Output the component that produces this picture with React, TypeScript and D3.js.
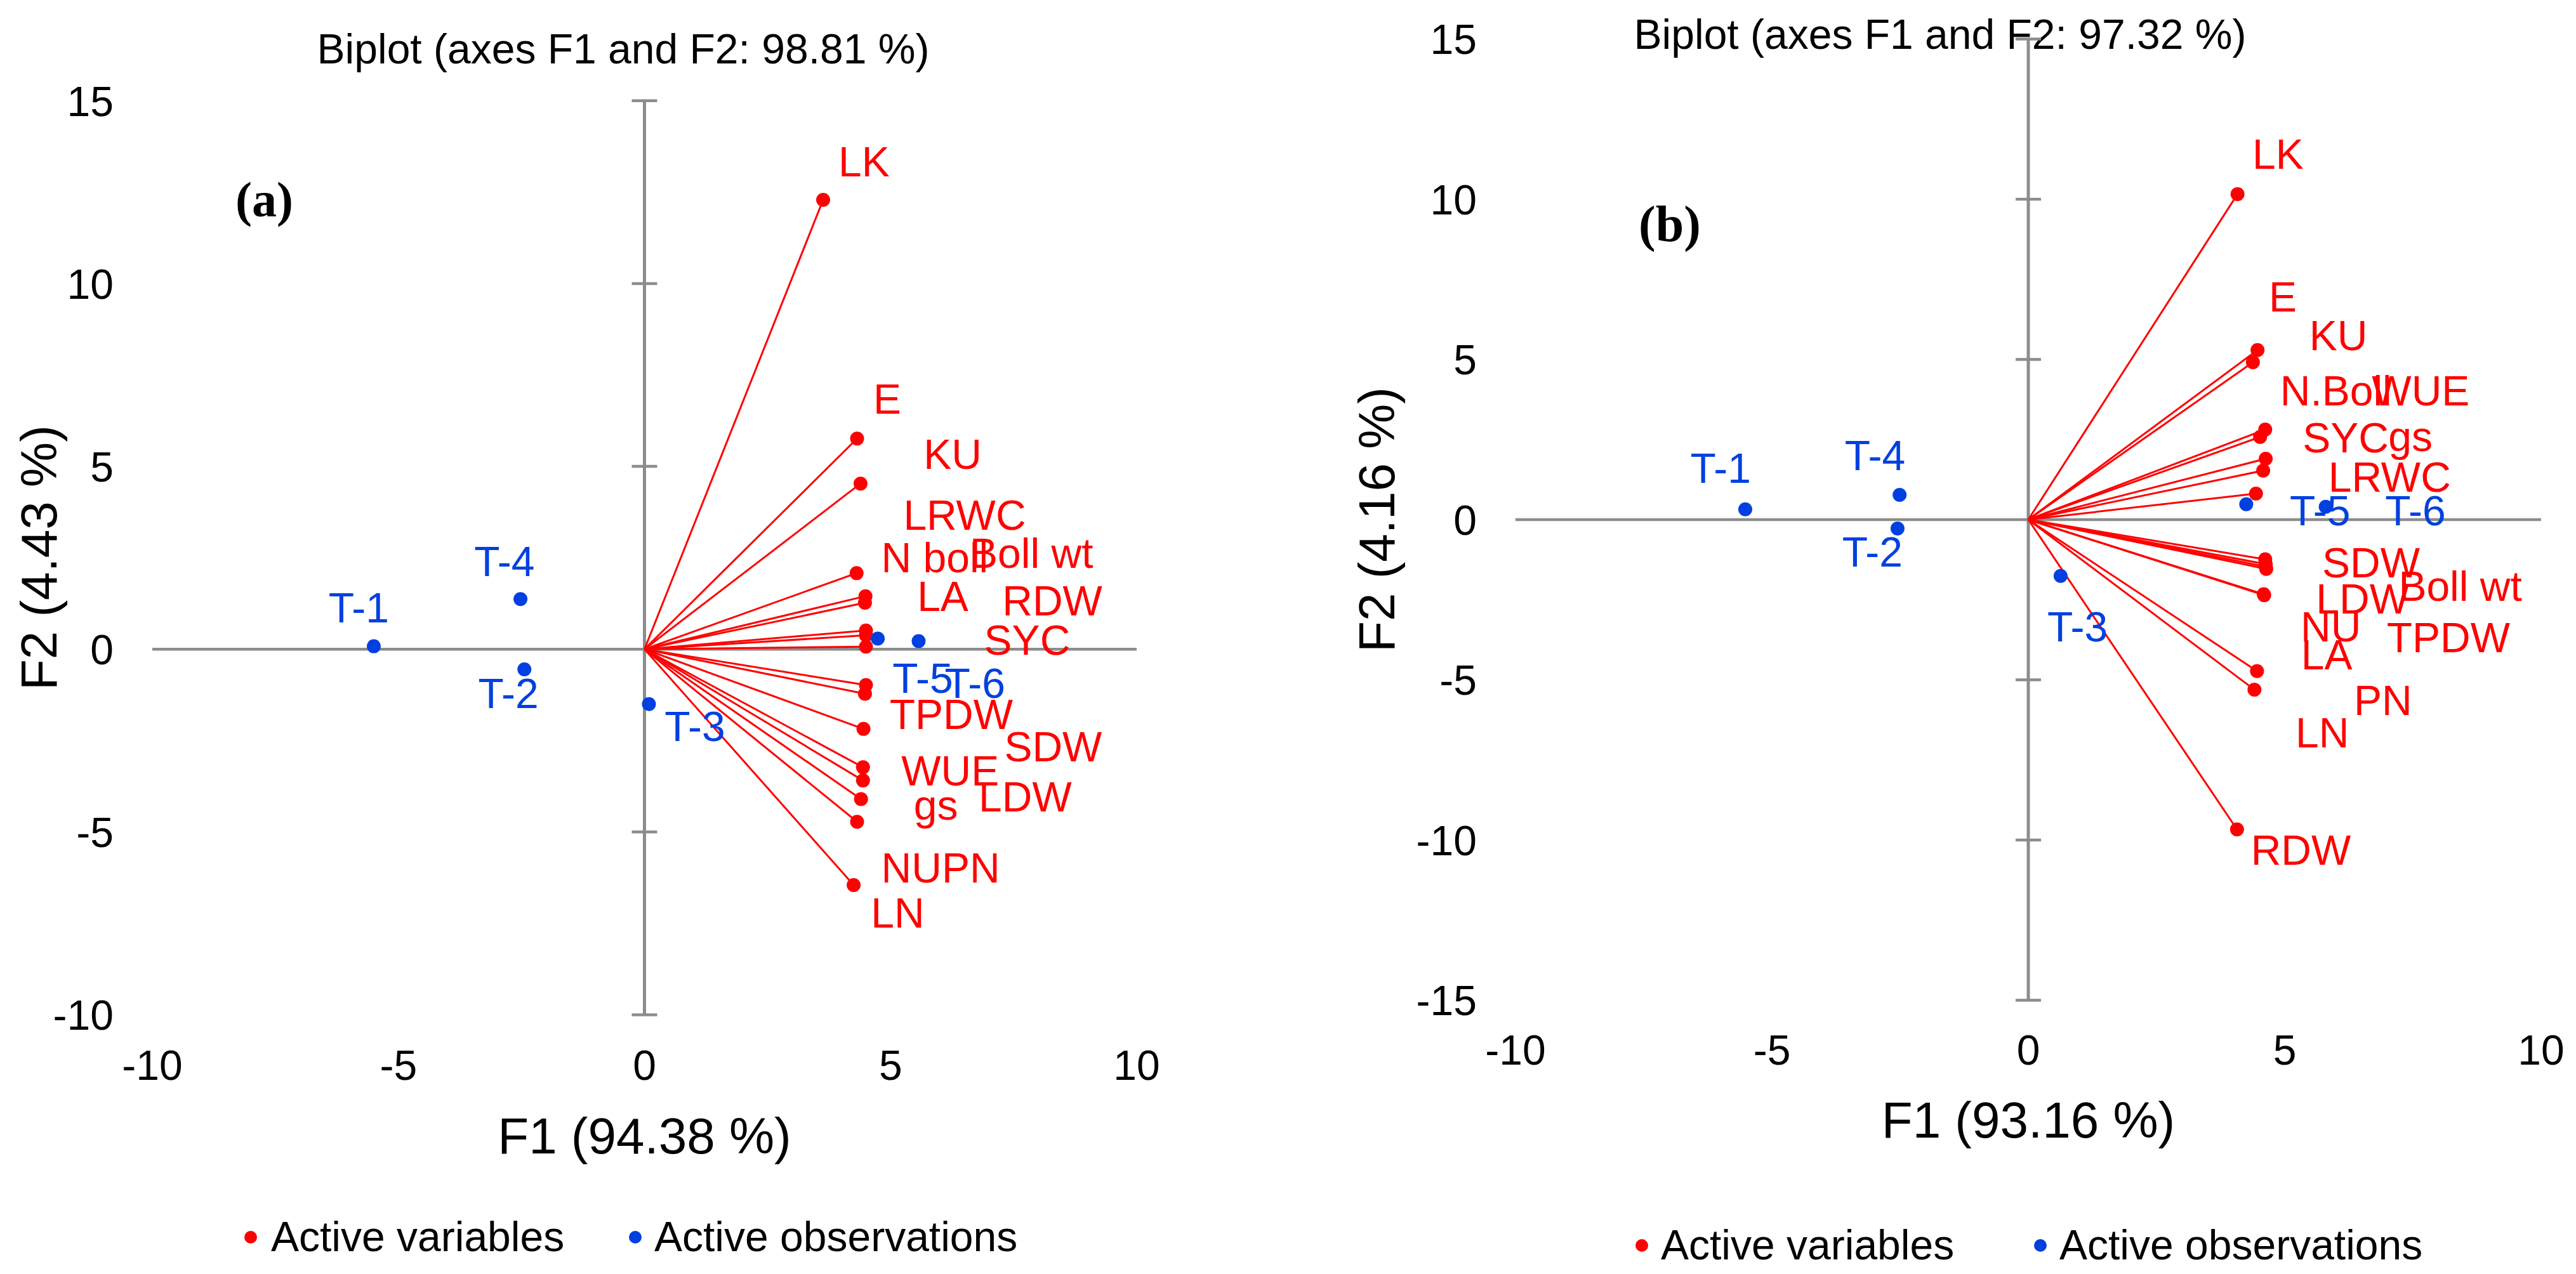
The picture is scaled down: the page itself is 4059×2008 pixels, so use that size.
import React, { useRef, useEffect } from 'react';
import * as d3 from 'd3';

// ---------- data ----------
const titles = ['Biplot (axes F1 and F2: 98.81 %)', 'Biplot (axes F1 and F2: 97.32 %)'];
const xTitles = ['F1 (94.38 %)', 'F1 (93.16 %)'];
const yTitles = ['F2 (4.43 %)', 'F2 (4.16 %)'];
const tags = ['(a)', '(b)'];
const legendNames = ['Active variables', 'Active observations'];

const xTicks = [-10, -5, 0, 5, 10];
const yTicksA = [-10, -5, 0, 5, 10, 15];
const yTicksB = [-15, -10, -5, 0, 5, 10, 15];

const obsNames = ['T-1', 'T-2', 'T-3', 'T-4', 'T-5', 'T-6'];

// panel (a)
const varNamesA = ['LK', 'E', 'KU', 'LRWC', 'N boll', 'Boll wt', 'LA', 'RDW', 'SYC', 'TPDW', 'SDW', 'WUE', 'LDW', 'gs', 'NU', 'PN', 'LN'];
const varF1A = [3.63, 4.32, 4.39, 4.31, 4.49, 4.48, 4.5, 4.5, 4.5, 4.5, 4.48, 4.45, 4.44, 4.44, 4.4, 4.32, 4.25];
const varF2A = [12.29, 5.76, 4.53, 2.08, 1.45, 1.27, 0.51, 0.38, 0.07, -0.98, -1.22, -2.18, -3.23, -3.59, -4.1, -4.72, -6.45];
const obsF1A = [-5.5, -2.44, 0.09, -2.52, 4.74, 5.57];
const obsF2A = [0.08, -0.55, -1.5, 1.37, 0.29, 0.22];

// panel (b)
const varNamesB = ['LK', 'E', 'KU', 'N.Boll', 'WUE', 'SYC', 'gs', 'LRWC', 'SDW', 'Boll wt', 'LDW', 'PN', 'TPDW', 'NU', 'LA', 'LN', 'RDW'];
const varF1B = [4.08, 4.47, 4.38, 4.62, 4.52, 4.63, 4.58, 4.44, 4.62, 4.63, 4.64, 4.63, 4.59, 4.6, 4.46, 4.41, 4.07];
const varF2B = [10.16, 5.29, 4.91, 2.81, 2.58, 1.9, 1.53, 0.81, -1.24, -1.39, -1.54, -1.47, -2.33, -2.36, -4.73, -5.31, -9.67];
const obsF1B = [-5.52, -2.55, 0.63, -2.51, 4.25, 5.8];
const obsF2B = [0.32, -0.28, -1.76, 0.77, 0.48, 0.4];

// ---------- label placement (in axis units, left edge / middle of text) ----------
const varLabelSpotsA: [number, number][] = [
  [3.94, 13.34], [4.65, 6.85], [5.67, 5.34], [5.26, 3.68], [4.81, 2.52], [6.61, 2.63],
  [5.54, 1.45], [7.27, 1.34], [6.9, 0.26], [4.98, -1.77], [7.31, -2.66], [5.22, -3.32],
  [6.79, -4.03], [5.47, -4.26], [4.81, -5.97], [6.04, -5.97], [4.6, -7.21],
];
const obsLabelSpotsA: [number, number][] = [
  [-6.42, 1.14], [-3.38, -1.19], [0.41, -2.1], [-3.46, 2.41], [5.04, -0.78], [6.1, -0.92],
];
const varLabelSpotsB: [number, number][] = [
  [4.37, 11.42], [4.69, 6.96], [5.48, 5.76], [4.91, 4.04], [6.7, 4.04], [5.35, 2.57],
  [7.02, 2.6], [5.85, 1.34], [5.73, -1.34], [7.22, -2.06], [5.61, -2.47], [6.35, -5.63],
  [6.99, -3.66], [5.31, -3.34], [5.32, -4.21], [5.21, -6.64], [4.34, -10.3],
];
const obsLabelSpotsB: [number, number][] = [
  [-6.59, 1.61], [-3.63, -1.0], [0.37, -3.33], [-3.58, 2.02], [5.1, 0.3], [6.96, 0.3],
];

const RED = '#ff0000';
const BLUE = '#0040e0';
const GREY = '#8c8c8c';
const FONT = '"Liberation Sans", Arial, sans-serif';

type Panel = {
  idx: number;
  varNames: string[]; varF1: number[]; varF2: number[];
  obsF1: number[]; obsF2: number[];
  varSpots: [number, number][]; obsSpots: [number, number][];
  yTicks: number[];
  xRange: [number, number]; yRange: [number, number];
  titleX: number; titleY: number;
  tagX: number; tagY: number; tagSize: number;
  xTitleY: number; yTitleX: number;
  legendY: number; legendDotX: [number, number]; legendTextX: [number, number];
};

const panels: Panel[] = [
  {
    idx: 0, varNames: varNamesA, varF1: varF1A, varF2: varF2A, obsF1: obsF1A, obsF2: obsF2A,
    varSpots: varLabelSpotsA, obsSpots: obsLabelSpotsA, yTicks: yTicksA,
    xRange: [240, 1791], yRange: [1599.5, 158.8],
    titleX: 982, titleY: 100, tagX: 371, tagY: 341, tagSize: 78,
    xTitleY: 1818, yTitleX: 89,
    legendY: 1972, legendDotX: [395, 1001], legendTextX: [427, 1031],
  },
  {
    idx: 1, varNames: varNamesB, varF1: varF1B, varF2: varF2B, obsF1: obsF1B, obsF2: obsF2B,
    varSpots: varLabelSpotsB, obsSpots: obsLabelSpotsB, yTicks: yTicksB,
    xRange: [2388, 4004], yRange: [1576.4, 61.5],
    titleX: 3057, titleY: 77, tagX: 2582, tagY: 380, tagSize: 80,
    xTitleY: 1793, yTitleX: 2197,
    legendY: 1985, legendDotX: [2587, 3215], legendTextX: [2617, 3245],
  },
];

const W = 4059;
const H = 2008;
const FS = 66;

const App: React.FC = () => {
  const svgRef = useRef<SVGSVGElement>(null);

  useEffect(() => {
    if (!svgRef.current) return;
    const svg = d3.select(svgRef.current);
    svg.selectAll('*').remove();

    panels.forEach(p => {
      const yDomain = d3.extent(p.yTicks) as [number, number];
      const x = d3.scaleLinear().domain([-10, 10]).range(p.xRange);
      const y = d3.scaleLinear().domain(yDomain).range(p.yRange);
      const g = svg.append('g').attr('font-family', FONT);

      // title
      g.append('text')
        .attr('x', p.titleX).attr('y', p.titleY)
        .attr('text-anchor', 'middle').attr('font-size', FS)
        .text(titles[p.idx]);

      // axes crossing at the origin
      g.append('line')
        .attr('x1', x(-10)).attr('x2', x(10)).attr('y1', y(0)).attr('y2', y(0))
        .attr('stroke', GREY).attr('stroke-width', 4.5);
      g.append('line')
        .attr('x1', x(0)).attr('x2', x(0)).attr('y1', y(yDomain[0])).attr('y2', y(yDomain[1]))
        .attr('stroke', GREY).attr('stroke-width', 5);
      g.selectAll('line.ytick')
        .data(p.yTicks.filter(t => t !== 0))
        .enter().append('line')
        .attr('class', 'ytick')
        .attr('x1', x(0) - 20).attr('x2', x(0) + 20)
        .attr('y1', d => y(d)).attr('y2', d => y(d))
        .attr('stroke', GREY).attr('stroke-width', 4.5);

      // tick labels
      g.selectAll('text.ylab')
        .data(p.yTicks)
        .enter().append('text')
        .attr('class', 'ylab')
        .attr('x', p.xRange[0] - 61).attr('y', d => y(d) + FS * 0.36)
        .attr('text-anchor', 'end').attr('font-size', FS)
        .text(d => String(d));
      g.selectAll('text.xlab')
        .data(xTicks)
        .enter().append('text')
        .attr('class', 'xlab')
        .attr('x', d => x(d)).attr('y', p.yRange[0] + 102)
        .attr('text-anchor', 'middle').attr('font-size', FS)
        .text(d => String(d));

      // axis titles
      g.append('text')
        .attr('x', x(0)).attr('y', p.xTitleY)
        .attr('text-anchor', 'middle').attr('font-size', 80)
        .text(xTitles[p.idx]);
      const yMid = (p.yRange[0] + p.yRange[1]) / 2;
      g.append('text')
        .attr('transform', `translate(${p.yTitleX},${yMid}) rotate(-90)`)
        .attr('text-anchor', 'middle').attr('font-size', 80)
        .text(yTitles[p.idx]);

      // panel tag
      g.append('text')
        .attr('x', p.tagX).attr('y', p.tagY)
        .attr('font-family', '"Liberation Serif", "Times New Roman", serif')
        .attr('font-weight', 'bold').attr('font-size', p.tagSize)
        .text(tags[p.idx]);

      // variable vectors
      const vars = p.varNames.map((n, i) => ({ n, f1: p.varF1[i], f2: p.varF2[i], spot: p.varSpots[i] }));
      g.selectAll('line.vec')
        .data(vars)
        .enter().append('line')
        .attr('class', 'vec')
        .attr('x1', x(0)).attr('y1', y(0))
        .attr('x2', d => x(d.f1)).attr('y2', d => y(d.f2))
        .attr('stroke', RED).attr('stroke-width', 3);
      g.selectAll('circle.var')
        .data(vars)
        .enter().append('circle')
        .attr('class', 'var')
        .attr('cx', d => x(d.f1)).attr('cy', d => y(d.f2)).attr('r', 11)
        .attr('fill', RED);

      // observations
      const obs = obsNames.map((n, i) => ({ n, f1: p.obsF1[i], f2: p.obsF2[i], spot: p.obsSpots[i] }));
      g.selectAll('circle.obs')
        .data(obs)
        .enter().append('circle')
        .attr('class', 'obs')
        .attr('cx', d => x(d.f1)).attr('cy', d => y(d.f2)).attr('r', 11)
        .attr('fill', BLUE);

      // labels
      g.selectAll('text.varlab')
        .data(vars)
        .enter().append('text')
        .attr('class', 'varlab')
        .attr('x', d => x(d.spot[0])).attr('y', d => y(d.spot[1]) + FS * 0.36)
        .attr('font-size', FS).attr('fill', RED)
        .text(d => d.n);
      g.selectAll('text.obslab')
        .data(obs)
        .enter().append('text')
        .attr('class', 'obslab')
        .attr('x', d => x(d.spot[0])).attr('y', d => y(d.spot[1]) + FS * 0.36)
        .attr('font-size', FS).attr('fill', BLUE)
        .text(d => d.n);

      // legend
      [RED, BLUE].forEach((c, i) => {
        g.append('circle')
          .attr('cx', p.legendDotX[i]).attr('cy', p.legendY - 22).attr('r', 10)
          .attr('fill', c);
        g.append('text')
          .attr('x', p.legendTextX[i]).attr('y', p.legendY)
          .attr('font-size', FS)
          .text(legendNames[i]);
      });
    });
  }, []);

  return (
    <div style={{ position: 'absolute', left: 0, top: 0 }}>
      <svg ref={svgRef} width={W} height={H} style={{ display: 'block', background: '#fff' }} />
    </div>
  );
};

export default App;
